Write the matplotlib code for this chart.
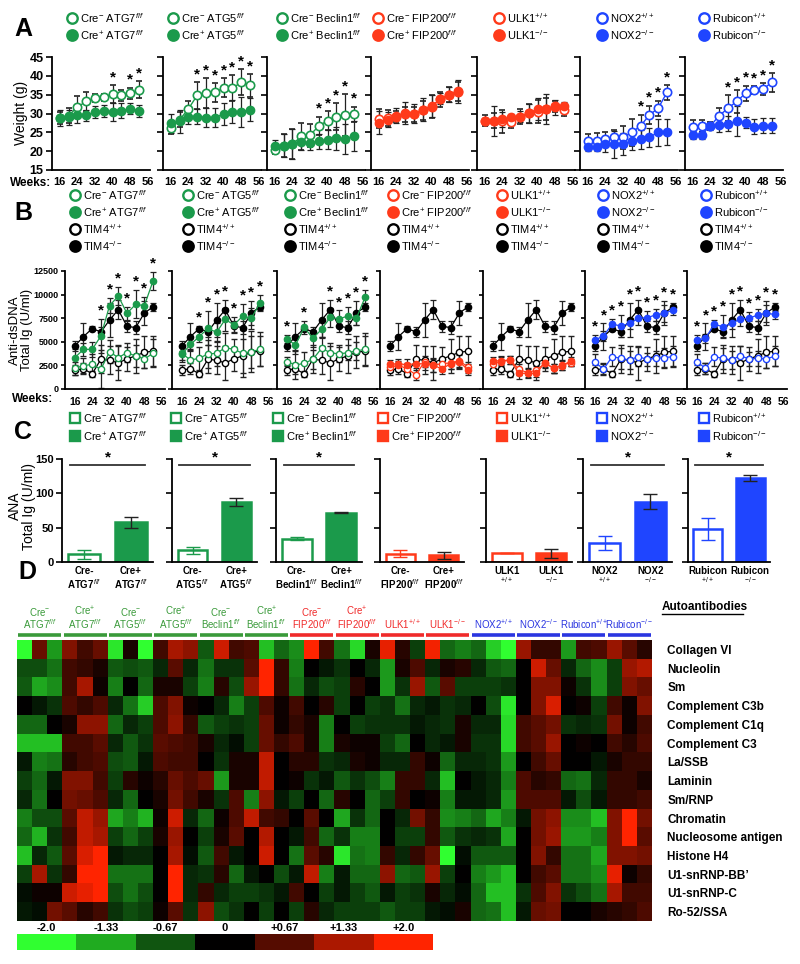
import numpy as np
import matplotlib
matplotlib.use("Agg")
import matplotlib.pyplot as plt
from matplotlib.colors import LinearSegmentedColormap

plt.rcParams["font.family"] = ["Liberation Sans", "DejaVu Sans"]
plt.rcParams["mathtext.fontset"] = "custom"
plt.rcParams["mathtext.rm"] = "Liberation Sans"
plt.rcParams["mathtext.it"] = "Liberation Sans:italic"
plt.rcParams["mathtext.bf"] = "Liberation Sans:bold"

# ---------------------------------------------------------------------
# Data
# ---------------------------------------------------------------------
WEEKS = [16, 20, 24, 28, 32, 36, 40, 44, 48, 52]

GREEN = "#1b9a4b"
RED = "#ff3a1a"
BLUE = "#1f45ff"
PANEL_COLORS = [GREEN, GREEN, GREEN, RED, RED, BLUE, BLUE]

CTRL_LABELS = [r"Cre$^{-}$ ATG7$^{f/f}$", r"Cre$^{-}$ ATG5$^{f/f}$", r"Cre$^{-}$ Beclin1$^{f/f}$",
               r"Cre$^{-}$ FIP200$^{f/f}$", r"ULK1$^{+/+}$", r"NOX2$^{+/+}$", r"Rubicon$^{+/+}$"]
KO_LABELS = [r"Cre$^{+}$ ATG7$^{f/f}$", r"Cre$^{+}$ ATG5$^{f/f}$", r"Cre$^{+}$ Beclin1$^{f/f}$",
             r"Cre$^{+}$ FIP200$^{f/f}$", r"ULK1$^{-/-}$", r"NOX2$^{-/-}$", r"Rubicon$^{-/-}$"]

# A: body weight (g)
wt_atg7_neg = [28.8, 29.4, 31.7, 33.2, 34.1, 34.3, 35.2, 34.8, 35.4, 36.3]
wt_atg7_pos = [28.8, 29.0, 29.6, 29.5, 30.4, 30.7, 30.4, 30.7, 31.3, 30.7]
wt_atg5_neg = [26.1, 28.3, 31.2, 34.8, 35.4, 35.6, 36.8, 36.7, 38.3, 37.5]
wt_atg5_pos = [27.4, 27.9, 29.2, 29.2, 28.9, 28.9, 29.9, 30.5, 30.4, 31.0]
wt_becn_neg = [20.3, 21.5, 21.8, 23.9, 24.2, 26.7, 28.1, 29.2, 29.6, 29.8]
wt_becn_pos = [21.5, 21.5, 21.8, 22.4, 22.3, 22.6, 23.0, 23.4, 23.2, 24.1]
wt_fip_neg = [28.6, 28.8, 29.2, 29.8, 29.8, 30.8, 31.8, 33.8, 35.0, 35.8]
wt_fip_pos = [27.6, 28.3, 29.4, 30.1, 29.9, 31.0, 32.0, 33.9, 35.0, 35.9]
wt_ulk_wt = [28.1, 28.1, 27.9, 27.7, 29.2, 30.1, 30.5, 31.2, 31.9, 30.8]
wt_ulk_ko = [27.9, 28.1, 28.5, 29.0, 29.2, 30.1, 31.2, 31.2, 31.7, 32.1]
wt_nox_wt = [22.6, 22.7, 23.2, 23.7, 23.7, 25.0, 26.7, 29.6, 31.4, 35.6]
wt_nox_ko = [21.0, 21.0, 21.9, 21.8, 21.9, 22.8, 23.2, 23.7, 25.0, 25.1]
wt_rub_wt = [26.4, 26.7, 26.7, 29.4, 31.4, 33.2, 35.4, 36.3, 36.5, 38.3]
wt_rub_ko = [24.3, 24.3, 26.7, 27.0, 27.3, 27.9, 27.6, 26.5, 26.7, 26.7]

wt_atg7_neg_err = [1.5, 2.0, 3.0, 2.5, 1.0, 1.0, 2.3, 1.5, 1.5, 2.3]
wt_atg7_pos_err = [2.0, 2.0, 2.0, 1.5, 1.5, 1.5, 2.5, 2.0, 1.5, 1.5]
wt_atg5_neg_err = [1.5, 2.0, 2.0, 3.5, 4.0, 2.5, 2.5, 3.5, 3.5, 3.0]
wt_atg5_pos_err = [2.5, 3.0, 2.0, 2.0, 2.5, 2.5, 3.0, 3.0, 4.0, 3.0]
wt_becn_neg_err = [1.0, 3.0, 4.0, 3.5, 3.0, 2.5, 2.5, 3.5, 5.5, 2.0]
wt_becn_pos_err = [1.5, 3.0, 4.0, 2.0, 2.0, 2.0, 2.5, 3.0, 4.0, 4.0]
wt_fip_neg_err = [2.5, 2.0, 1.5, 2.0, 2.0, 2.5, 3.0, 2.0, 2.0, 2.5]
wt_fip_pos_err = [3.0, 2.0, 2.0, 3.0, 2.5, 3.0, 3.0, 1.5, 2.0, 3.0]
wt_ulk_wt_err = [1.5, 2.0, 3.0, 1.5, 2.0, 2.5, 3.0, 3.0, 1.5, 1.5]
wt_ulk_ko_err = [1.0, 4.0, 2.0, 1.0, 1.5, 2.5, 3.0, 4.0, 2.0, 1.0]
wt_nox_wt_err = [2.0, 2.0, 2.0, 2.0, 3.0, 3.5, 3.0, 2.5, 2.0, 2.0]
wt_nox_ko_err = [1.0, 1.0, 2.0, 3.5, 3.0, 2.5, 2.5, 2.5, 3.5, 3.5]
wt_rub_wt_err = [2.0, 1.5, 1.0, 2.0, 3.5, 3.0, 2.0, 1.0, 1.5, 2.5]
wt_rub_ko_err = [1.0, 1.0, 1.0, 2.0, 2.0, 4.0, 1.5, 2.0, 2.0, 2.0]

wt_stars = [[40, 48, 52], [28, 32, 36, 40, 44, 48, 52], [36, 40, 44, 48, 52], [], [],
            [40, 44, 48, 52], [32, 36, 40, 44, 48, 52]]

# B: anti-dsDNA total Ig (U/ml)
ds_tim4_wt = [2000, 2150, 1600, 3150, 3050, 2750, 3200, 3500, 3900, 4000]
ds_tim4_ko = [4550, 5550, 6400, 6050, 7300, 8400, 6650, 6500, 8050, 8700]
ds_tim4_wt_err = [500, 600, 300, 1500, 1500, 1800, 1300, 1800, 1700, 1600]
ds_tim4_ko_err = [500, 1400, 300, 500, 1800, 1000, 600, 700, 1300, 400]

ds_atg7_neg = [2190, 2470, 2610, 2080, 3950, 3320, 3850, 3490, 3180, 3780]
ds_atg7_pos = [3320, 4200, 4200, 5610, 8830, 9850, 8010, 8970, 8830, 11440]
ds_atg5_neg = [3780, 3070, 3250, 3710, 3780, 4380, 4200, 3780, 3950, 4200]
ds_atg5_pos = [3670, 4730, 5540, 6430, 6000, 7380, 6780, 7730, 7490, 9140]
ds_becn_neg = [2900, 2540, 2720, 3140, 4310, 3850, 3710, 3850, 4030, 4200]
ds_becn_pos = [5300, 4660, 6530, 5370, 6320, 7590, 7420, 7730, 7490, 9710]
ds_fip_neg = [2300, 2500, 2150, 1500, 2900, 2500, 2700, 2750, 3000, 2300]
ds_fip_pos = [2600, 2700, 2550, 2700, 2650, 2550, 2100, 2700, 2850, 2050]
ds_ulk_wt = [2650, 2900, 3070, 2080, 1730, 2010, 2720, 2190, 2540, 2790]
ds_ulk_ko = [2970, 3000, 3070, 1660, 1660, 1660, 2790, 2190, 2470, 3000]
ds_nox_wt = [2900, 2080, 3430, 3250, 3070, 3430, 3140, 3250, 3320, 3430]
ds_nox_ko = [5190, 5610, 6880, 6670, 6950, 7490, 7560, 7840, 8010, 8370]
ds_rub_wt = [2900, 2190, 3430, 3250, 3070, 3530, 3180, 3250, 3180, 3490]
ds_rub_ko = [5190, 5370, 6850, 6600, 6950, 7420, 7490, 7840, 8010, 7900]

ds_atg7_neg_err = [700, 800, 1100, 2000, 1200, 1300, 1000, 1200, 1000, 1500]
ds_atg7_pos_err = [900, 700, 800, 1800, 800, 1000, 700, 1500, 900, 1000]
ds_atg5_neg_err = [700, 1200, 1200, 1500, 1300, 1600, 1100, 2500, 2200, 1800]
ds_atg5_pos_err = [800, 700, 600, 1800, 1000, 1200, 900, 1300, 1100, 800]
ds_becn_neg_err = [500, 1500, 1200, 1000, 1200, 1000, 900, 800, 1000, 1700]
ds_becn_pos_err = [400, 1000, 700, 900, 900, 1000, 900, 1000, 700, 800]
ds_fip_neg_err = [500, 500, 600, 500, 600, 700, 500, 600, 700, 600]
ds_fip_pos_err = [500, 500, 600, 500, 600, 700, 500, 600, 700, 600]
ds_ulk_wt_err = [400, 500, 400, 600, 500, 400, 500, 500, 500, 400]
ds_ulk_ko_err = [400, 500, 400, 600, 500, 400, 500, 500, 500, 400]
ds_nox_wt_err = [800, 600, 1000, 1100, 1000, 1000, 700, 800, 1000, 1100]
ds_nox_ko_err = [500, 500, 500, 1200, 600, 700, 700, 600, 900, 500]
ds_rub_wt_err = [800, 600, 1000, 1100, 1000, 1000, 700, 800, 1000, 1100]
ds_rub_ko_err = [500, 500, 500, 1200, 600, 700, 700, 600, 900, 500]

ds_stars = [[28, 32, 36, 40, 44, 48, 52], [24, 28, 32, 36, 40, 44, 48, 52],
            [16, 24, 36, 40, 44, 48, 52], [], [], WEEKS, WEEKS]

# C: ANA total Ig (U/ml)
ana_ctrl = [11, 17, 34, 12, 13, 28, 48]
ana_ctrl_err = [6, 5, 2, 5, 0.5, 10, 16]
ana_ko = [58, 87, 72, 10, 13, 88, 122]
ana_ko_err = [8, 6, 0.5, 5, 6.5, 11, 4.5]
ana_sig = [True, True, True, False, False, True, True]
ANA_CTRL_TICKS = ["Cre-\nATG7$^{f/f}$", "Cre-\nATG5$^{f/f}$", "Cre-\nBeclin1$^{f/f}$",
                  "Cre-\nFIP200$^{f/f}$", "ULK1\n$^{+/+}$", "NOX2\n$^{+/+}$", "Rubicon\n$^{+/+}$"]
ANA_KO_TICKS = ["Cre+\nATG7$^{f/f}$", "Cre+\nATG5$^{f/f}$", "Cre+\nBeclin1$^{f/f}$",
                "Cre+\nFIP200$^{f/f}$", "ULK1\n$^{-/-}$", "NOX2\n$^{-/-}$", "Rubicon\n$^{-/-}$"]

# D: autoantibody heatmap (z-scores, 15 antigens x 42 mice)
ANTIGENS = ["Collagen VI", "Nucleolin", "Sm", "Complement C3b", "Complement C1q",
            "Complement C3", "La/SSB", "Laminin", "Sm/RNP", "Chromatin",
            "Nucleosome antigen", "Histone H4", "U1-snRNP-BB\u2019", "U1-snRNP-C", "Ro-52/SSA"]
HEAT_GROUPS = ["Cre$^{-}$\nATG7$^{f/f}$", "Cre$^{+}$\nATG7$^{f/f}$", "Cre$^{-}$\nATG5$^{f/f}$",
               "Cre$^{+}$\nATG5$^{f/f}$", "Cre$^{-}$\nBeclin1$^{f/f}$", "Cre$^{+}$\nBeclin1$^{f/f}$",
               "Cre$^{-}$\nFIP200$^{f/f}$", "Cre$^{+}$\nFIP200$^{f/f}$", "ULK1$^{+/+}$", "ULK1$^{-/-}$",
               "NOX2$^{+/+}$", "NOX2$^{-/-}$", "Rubicon$^{+/+}$", "Rubicon$^{-/-}$"]
HEAT_GROUP_COLORS = ["#3a9a3a"] * 6 + ["#f02a2a"] * 4 + ["#2a35e0"] * 4
HEAT = [
    [-2.0, 0.8, -1.2, 1.0, 0.5, 0.8, -1.8, 0.2, -2.0, 0.5, 1.3, 1.1, -0.7, 1.6,
     0.5, 0.6, -1.5, -0.8, -1.1, 2.0, 0.5, -0.9, -1.7, 0.2, 1.8, 0.3, -0.5, 1.9,
     -0.8, -1.0, -0.8, -1.6, -2.0, 1.2, 0.4, 0.4, -1.2, 0.5, 0.6, 1.2, 0.7, 0.3],
    [-0.6, -0.6, -0.9, 0.5, 0.4, 0.2, -0.7, -0.6, -0.7, -0.3, 0.7, -0.3, -0.9, -0.4,
     -0.4, 0.7, 2.0, 0.4, -1.0, 0.0, -0.2, -0.4, 0.0, -0.3, -1.2, 0.2, 0.6, -0.3,
     0.2, 0.3, -0.3, -0.7, -0.8, 0.0, 1.6, 0.8, -0.3, -0.8, -1.1, -0.5, 1.2, 1.4],
    [-0.7, -1.3, -1.1, 0.5, 1.3, 0.1, -1.0, 0.0, -0.8, 0.2, 0.2, -0.5, -1.0, 0.3,
     -0.6, 1.2, 2.0, 0.4, -0.9, -0.3, -0.6, -0.5, 0.3, 0.0, -1.2, -0.4, 1.2, -0.7,
     0.7, -0.5, -0.5, -0.5, -0.4, 0.0, 1.0, 1.0, 0.1, -0.4, -1.1, -0.5, 1.0, 0.8],
    [0.0, -0.2, -0.4, 0.6, 0.4, 0.6, -0.3, -0.9, -1.6, 0.6, 1.0, 0.1, 0.0, -0.3,
     -1.0, -0.5, 0.6, 0.1, 0.5, 0.0, 0.3, -0.5, 0.0, -0.5, -0.4, -0.9, -0.3, -0.2,
     -0.4, -0.3, 0.0, -0.6, -1.8, 0.0, 1.0, 1.7, 0.0, 0.1, -0.5, 0.5, 0.1, 1.0],
    [-0.8, -0.8, 0.0, 0.2, 1.1, 1.1, -0.8, -0.3, -0.5, 0.6, 1.1, 0.4, -0.7, -0.5,
     -0.4, -0.5, 0.8, 0.1, 0.4, 0.2, -1.0, 0.0, -0.5, -0.4, -0.4, -0.4, -0.2, -0.3,
     -0.4, 0.2, -0.3, -0.3, -1.7, 0.5, 0.7, 0.9, -0.4, -0.3, -0.4, 0.9, 0.1, 0.5],
    [-1.5, -1.5, -1.5, 0.5, 0.5, 0.7, -0.3, -0.7, -0.4, 0.7, 0.6, 0.5, 0.2, -0.3,
     -0.1, -0.5, 0.8, 0.4, 0.6, 0.2, -1.0, 0.2, 0.1, 0.1, -0.5, -0.8, 0.0, -0.3,
     -0.2, 0.2, -0.4, -0.4, -1.7, 0.5, 0.7, 1.2, 0.0, 0.1, 0.0, 0.5, 0.3, 0.6],
    [-0.2, -1.0, -0.9, 0.3, 0.5, 0.6, -0.6, -0.7, -0.2, 0.6, 0.5, 0.5, 0.0, -0.4,
     0.2, 0.2, 1.5, 0.0, 0.3, 0.3, -0.4, -0.3, 0.2, 0.1, -0.3, -0.3, 0.4, 0.1,
     -0.8, -0.3, -0.3, -0.4, -1.2, 0.0, 0.5, 0.8, 0.0, 0.0, -0.2, 0.2, 0.4, 0.4],
    [-0.5, -0.8, -0.2, 1.0, 1.0, 0.5, -0.5, 0.3, 0.1, 0.3, 0.8, 0.6, 0.8, -1.2,
     0.2, 0.2, 1.5, 0.0, 0.1, -0.4, -0.2, -0.7, -0.4, -0.6, -1.0, 0.4, 0.4, -0.3,
     -1.5, 0.0, -0.2, -0.3, -1.0, 0.6, 0.3, 0.4, -0.8, -0.9, -0.3, 0.4, 0.4, 0.2],
    [-0.3, -0.9, 0.0, 0.9, 0.8, 0.6, -0.3, -0.8, 0.0, 0.2, 0.9, 0.5, 0.2, -0.4,
     0.6, -1.0, 1.1, -0.2, -0.5, 0.0, -0.8, 0.3, 0.0, -0.8, -0.5, 0.4, 0.0, 0.1,
     -1.0, -0.2, -0.2, -0.3, -1.2, 0.6, 0.6, 0.6, -0.2, -0.6, -0.2, 0.4, 0.4, 0.5],
    [-1.0, -0.6, -0.6, 0.7, 1.5, 1.2, -1.3, -1.0, -1.4, 0.1, 1.6, -0.3, -0.8, 0.1,
     0.6, 1.5, 0.5, 0.4, 0.0, 0.7, 0.0, -1.3, -0.4, -0.8, 0.0, -0.3, 0.9, 0.4,
     -1.1, -1.0, -0.8, -1.3, -1.0, -0.2, 0.9, 1.1, -1.1, -1.1, -1.5, 1.0, 2.0, 0.9],
    [-0.8, -1.4, -0.4, 0.5, 1.5, 1.3, -0.5, -0.8, -0.5, 0.2, 1.2, 0.0, -0.5, 0.2,
     0.7, 0.0, 1.4, 0.0, -0.2, 0.5, -0.8, -0.4, -1.0, -1.0, 0.0, -0.5, -0.5, 0.4,
     -0.7, -0.4, -0.3, -0.4, -1.3, 0.0, 0.9, 1.2, -1.2, -1.2, -1.0, 1.0, 2.0, 0.7],
    [-1.5, -0.3, -0.7, 0.7, 1.7, 2.0, -0.2, -0.3, -0.3, 0.0, 1.3, -0.1, -0.7, 0.5,
     -0.2, 0.0, 1.6, 0.0, -0.9, 0.7, 0.3, -1.8, -0.9, -1.0, 0.4, -0.3, 0.4, 0.8,
     -2.0, -0.1, -0.7, -0.7, -0.7, 0.0, 1.0, 0.4, -0.9, -0.9, -1.3, 1.0, 1.0, 0.9],
    [-0.5, 1.3, -0.4, 0.4, 2.0, 2.0, -0.9, -0.9, -0.9, 0.0, 2.0, -0.3, -0.4, 0.3,
     -0.8, -0.2, 0.0, -0.6, -0.2, 1.5, -1.0, -0.2, -0.8, -0.8, 1.1, -0.8, -0.7, 1.2,
     -0.5, 0.0, -1.0, -1.2, -1.5, 0.0, 0.5, 0.7, -0.9, -0.9, -1.1, 1.8, 0.1, 0.4],
    [-0.1, 0.1, 0.1, 1.6, 1.8, 2.0, -0.6, -0.9, -0.6, 0.0, 2.0, -0.3, 0.4, -0.3,
     -0.5, -0.5, -0.4, -0.2, 0.5, 0.0, -0.5, -0.2, -0.5, -0.7, -0.2, -0.5, -0.4, 0.2,
     -0.3, -0.1, -0.8, -1.5, -1.5, -0.4, 0.6, 1.0, -0.4, -0.6, -0.9, 1.3, 0.5, 0.5],
    [-0.2, -0.1, 0.9, 0.7, 0.3, 0.5, -0.4, -0.6, -0.5, 0.1, 0.7, -0.4, 1.1, -0.6,
     -0.4, 0.0, -0.5, 0.0, -0.5, 0.3, -0.3, -0.5, -0.5, -0.5, -0.7, -0.5, -0.5, -0.2,
     -0.1, 0.2, -0.8, -0.9, -1.5, -0.2, 0.8, 0.9, 0.0, 0.0, 0.2, 0.3, 0.4, 0.6],
]
CBAR_VALUES = [-2.0, -1.33, -0.67, 0.0, 0.67, 1.33, 2.0]
CBAR_LABELS = ["-2.0", "-1.33", "-0.67", "0", "+0.67", "+1.33", "+2.0"]

A_CTRL = [wt_atg7_neg, wt_atg5_neg, wt_becn_neg, wt_fip_neg, wt_ulk_wt, wt_nox_wt, wt_rub_wt]
A_KO = [wt_atg7_pos, wt_atg5_pos, wt_becn_pos, wt_fip_pos, wt_ulk_ko, wt_nox_ko, wt_rub_ko]
A_CTRL_ERR = [wt_atg7_neg_err, wt_atg5_neg_err, wt_becn_neg_err, wt_fip_neg_err,
              wt_ulk_wt_err, wt_nox_wt_err, wt_rub_wt_err]
A_KO_ERR = [wt_atg7_pos_err, wt_atg5_pos_err, wt_becn_pos_err, wt_fip_pos_err,
            wt_ulk_ko_err, wt_nox_ko_err, wt_rub_ko_err]
B_CTRL = [ds_atg7_neg, ds_atg5_neg, ds_becn_neg, ds_fip_neg, ds_ulk_wt, ds_nox_wt, ds_rub_wt]
B_KO = [ds_atg7_pos, ds_atg5_pos, ds_becn_pos, ds_fip_pos, ds_ulk_ko, ds_nox_ko, ds_rub_ko]
B_CTRL_ERR = [ds_atg7_neg_err, ds_atg5_neg_err, ds_becn_neg_err, ds_fip_neg_err,
              ds_ulk_wt_err, ds_nox_wt_err, ds_rub_wt_err]
B_KO_ERR = [ds_atg7_pos_err, ds_atg5_pos_err, ds_becn_pos_err, ds_fip_pos_err,
            ds_ulk_ko_err, ds_nox_ko_err, ds_rub_ko_err]

# ---------------------------------------------------------------------
# Layout (pixels of the 800 x 964 figure)
# ---------------------------------------------------------------------
W, H = 800, 964
fig = plt.figure(figsize=(W / 100, H / 100), dpi=100)


def px_axes(left, top, width, height):
    return fig.add_axes([left / W, 1 - (top + height) / H, width / W, height / H])


ov = fig.add_axes([0, 0, 1, 1], zorder=5)
ov.set_xlim(0, W)
ov.set_ylim(H, 0)
ov.axis("off")
ov.patch.set_alpha(0)


def style_axes(ax):
    for s in ("top", "right"):
        ax.spines[s].set_visible(False)
    for s in ("left", "bottom"):
        ax.spines[s].set_linewidth(1.3)
    ax.tick_params(axis="y", direction="out", length=4, width=1.2)
    ax.tick_params(axis="x", length=0)
    ax.patch.set_alpha(0)


def legend_entry(x, y, text, color, filled, marker="o", ms=7.5):
    ov.plot(x, y, marker, ms=ms, mfc=color if filled else "white", mec=color, mew=1.7,
            clip_on=False)
    ov.text(x + 8, y, text, va="center", ha="left", fontsize=8)


ERR_KW = dict(ecolor="#222222", elinewidth=0.9, capsize=2.5, capthick=0.9)

# --- panel letters
for letter, (x, y) in zip("ABCD", [(23, 29), (23, 213), (23, 432), (27, 572)]):
    ov.text(x, y, letter, fontsize=18, fontweight="bold", ha="center", va="center")

# ---------------------------------------------------------------------
# A: weight
# ---------------------------------------------------------------------
A_LEG_X = [72, 173, 282, 378, 499, 602, 704]
for i in range(7):
    legend_entry(A_LEG_X[i], 18, CTRL_LABELS[i], PANEL_COLORS[i], False)
    legend_entry(A_LEG_X[i], 35, KO_LABELS[i], PANEL_COLORS[i], True)

A_LEFTS = [52, 163, 267, 371, 477, 580, 685]
for i in range(7):
    ax = px_axes(A_LEFTS[i], 57, 98, 113)
    c = PANEL_COLORS[i]
    ax.errorbar(WEEKS, A_CTRL[i], yerr=A_CTRL_ERR[i], color=c, marker="o", ms=6,
                mfc="white", mec=c, mew=1.2, lw=1.0, **ERR_KW)
    ax.errorbar(WEEKS, A_KO[i], yerr=A_KO_ERR[i], color=c, marker="o", ms=6,
                mfc=c, mec=c, lw=1.0, **ERR_KW)
    for w in wt_stars[i]:
        j = WEEKS.index(w)
        top = max(A_CTRL[i][j] + A_CTRL_ERR[i][j], A_KO[i][j] + A_KO_ERR[i][j])
        ax.text(w, top + 0.2, "*", ha="center", va="bottom", fontsize=11, fontweight="bold")
    ax.set_xlim(12.5, 57)
    ax.set_ylim(15, 45)
    ax.set_xticks([16, 24, 32, 40, 48, 56])
    ax.set_yticks(range(15, 46, 5))
    style_axes(ax)
    ax.tick_params(axis="x", labelsize=8, pad=5)
    ax.tick_params(axis="y", labelsize=9, pad=2)
    for lab in ax.get_xticklabels() + ax.get_yticklabels():
        lab.set_fontweight("bold")
    if i > 0:
        ax.set_yticklabels([])

ov.text(21, 113, "Weight (g)", rotation=90, ha="center", va="center", fontsize=10)
ov.text(10, 183, "Weeks:", ha="left", va="center", fontsize=8.5, fontweight="bold")

# ---------------------------------------------------------------------
# B: anti-dsDNA
# ---------------------------------------------------------------------
B_LEG_X = [75, 188, 290, 393, 502, 603, 706]
for i in range(7):
    legend_entry(B_LEG_X[i], 195, CTRL_LABELS[i], PANEL_COLORS[i], False)
    legend_entry(B_LEG_X[i], 212, KO_LABELS[i], PANEL_COLORS[i], True)
    legend_entry(B_LEG_X[i], 229, r"TIM4$^{+/+}$", "black", False)
    legend_entry(B_LEG_X[i], 246, r"TIM4$^{-/-}$", "black", True)

B_LEFTS = [65, 172, 277, 380, 483, 585, 687]
for i in range(7):
    ax = px_axes(B_LEFTS[i], 271, 100, 118)
    c = PANEL_COLORS[i]
    ax.errorbar(WEEKS, ds_tim4_wt, yerr=ds_tim4_wt_err, color="black", marker="o", ms=4.5,
                mfc="white", mec="black", mew=1.0, lw=0.9, **ERR_KW)
    ax.errorbar(WEEKS, ds_tim4_ko, yerr=ds_tim4_ko_err, color="black", marker="o", ms=4.5,
                mfc="black", lw=0.9, **ERR_KW)
    ax.errorbar(WEEKS, B_CTRL[i], yerr=B_CTRL_ERR[i], color=c, marker="o", ms=4.5,
                mfc="white", mec=c, mew=1.0, lw=0.9, **ERR_KW)
    ax.errorbar(WEEKS, B_KO[i], yerr=B_KO_ERR[i], color=c, marker="o", ms=4.5,
                mfc=c, mec=c, lw=0.9, **ERR_KW)
    for w in ds_stars[i]:
        j = WEEKS.index(w)
        top = max(B_CTRL[i][j] + B_CTRL_ERR[i][j], B_KO[i][j] + B_KO_ERR[i][j],
                  ds_tim4_ko[j] + ds_tim4_ko_err[j])
        ax.text(w, top + 150, "*", ha="center", va="bottom", fontsize=11, fontweight="bold")
    ax.set_xlim(11.5, 57.5)
    ax.set_ylim(0, 12500)
    ax.set_xticks([16, 24, 32, 40, 48, 56])
    ax.set_yticks(range(0, 12501, 2500))
    style_axes(ax)
    ax.tick_params(axis="x", labelsize=7.5, pad=6)
    ax.tick_params(axis="y", labelsize=6.5, length=3, pad=1.5)
    for lab in ax.get_xticklabels() + ax.get_yticklabels():
        lab.set_fontweight("bold")
    if i > 0:
        ax.set_yticklabels([])

ov.text(21, 330, "Anti-dsDNA\nTotal Ig (U/ml)", rotation=90, ha="center", va="center",
        fontsize=9.5, linespacing=1.0)
ov.text(12, 399, "Weeks:", ha="left", va="center", fontsize=8.5, fontweight="bold")

# ---------------------------------------------------------------------
# C: ANA bars
# ---------------------------------------------------------------------
C_LEG_X = [75, 176, 278, 383, 502, 602, 704]
for i in range(7):
    legend_entry(C_LEG_X[i], 418, CTRL_LABELS[i], PANEL_COLORS[i], False, marker="s", ms=7)
    legend_entry(C_LEG_X[i], 436, KO_LABELS[i], PANEL_COLORS[i], True, marker="s", ms=7)

C_LEFTS = [62, 172, 276, 380, 486, 583, 688]
C_WIDTHS = [91, 85, 86, 84, 86, 89, 82]
for i in range(7):
    ax = px_axes(C_LEFTS[i], 459, C_WIDTHS[i], 103)
    c = PANEL_COLORS[i]
    ax.bar([0, 1], [ana_ctrl[i], ana_ko[i]], width=0.68, color=["white", c],
           edgecolor=c, linewidth=1.8)
    ax.errorbar([0], [ana_ctrl[i]], yerr=[ana_ctrl_err[i]], fmt="none", ecolor=c,
                elinewidth=1.0, capsize=5, capthick=1.0)
    ax.errorbar([1], [ana_ko[i]], yerr=[ana_ko_err[i]], fmt="none", ecolor="#222222",
                elinewidth=1.0, capsize=5, capthick=1.0)
    if ana_sig[i]:
        ax.plot([-0.3, 1.3], [141, 141], color="#333333", lw=1.3, clip_on=False)
        ax.text(0.5, 142, "*", ha="center", va="bottom", fontsize=11, fontweight="bold")
    ax.set_xlim(-0.47, 1.47)
    ax.set_ylim(0, 150)
    ax.set_yticks([0, 50, 100, 150])
    ax.set_xticks([0, 1])
    ax.set_xticklabels([ANA_CTRL_TICKS[i], ANA_KO_TICKS[i]], fontsize=7,
                       fontweight="bold", linespacing=1.1)
    style_axes(ax)
    ax.tick_params(axis="x", pad=3)
    ax.tick_params(axis="y", labelsize=8, pad=2)
    for lab in ax.get_yticklabels():
        lab.set_fontweight("bold")
    if i > 0:
        ax.set_yticklabels([])

ov.text(22, 506, "ANA\nTotal Ig (U/ml)", rotation=90, ha="center", va="center",
        fontsize=10, linespacing=1.0)

# ---------------------------------------------------------------------
# D: heatmap
# ---------------------------------------------------------------------
cmap = LinearSegmentedColormap.from_list("gkr", ["#30ff30", "#000000", "#ff2400"])
heat = np.array(HEAT)
n_rows, n_cols = heat.shape

ax_hm = px_axes(17, 621, 635, 300)
ax_hm.imshow(heat, cmap=cmap, vmin=-2, vmax=2, aspect="auto", interpolation="nearest")
for s in ax_hm.spines.values():
    s.set_visible(False)
ax_hm.set_xticks([])
ax_hm.yaxis.tick_right()
ax_hm.set_yticks(range(n_rows))
ax_hm.set_yticklabels(ANTIGENS, fontsize=8.5, fontweight="bold")
ax_hm.tick_params(axis="y", length=0, pad=11)

for g, (label, color) in enumerate(zip(HEAT_GROUPS, HEAT_GROUP_COLORS)):
    x0 = 3 * g
    ax_hm.plot([x0 - 0.42, x0 + 2.42], [-0.76, -0.76], color=color, lw=2.6,
               solid_capstyle="butt", clip_on=False)
    ax_hm.text(x0 + 1, -1.0, label, color=color, ha="center", va="bottom", fontsize=7,
               linespacing=0.95)
ov.text(662, 607, "Autoantibodies", ha="left", va="center", fontsize=8.5, fontweight="bold")
ov.plot([662, 743], [614, 614], color="black", lw=1.0)

ax_cb = px_axes(17, 934, 416, 16)
ax_cb.imshow([CBAR_VALUES], cmap=cmap, vmin=-2, vmax=2, aspect="auto",
             interpolation="nearest")
for s in ax_cb.spines.values():
    s.set_visible(False)
ax_cb.set_yticks([])
ax_cb.xaxis.tick_top()
ax_cb.set_xticks(range(len(CBAR_VALUES)))
ax_cb.set_xticklabels(CBAR_LABELS, fontsize=8, fontweight="bold")
ax_cb.tick_params(axis="x", length=0, pad=1)

fig.savefig("out.png", dpi=100)
